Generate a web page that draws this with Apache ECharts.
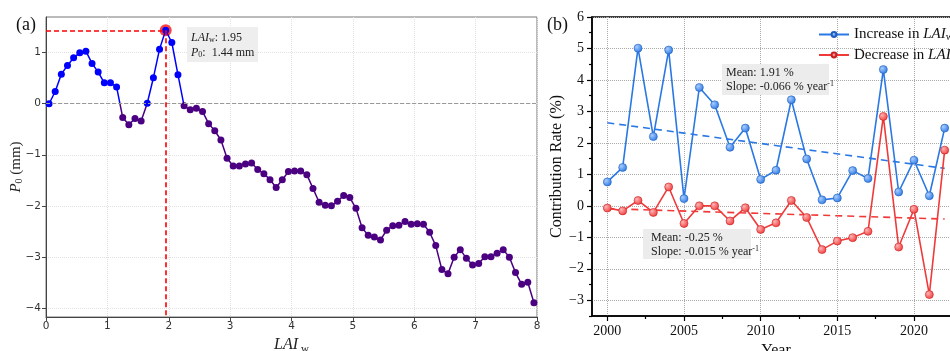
<!DOCTYPE html>
<html>
<head>
<meta charset="utf-8">
<script src="https://cdn.jsdelivr.net/npm/echarts@6/dist/echarts.min.js"></script>
<style>html,body{margin:0;padding:0;background:#fff}#chart{width:950px;height:351px}</style>
</head>
<body>
<div id="chart"></div>
<script>
// panel (a): P0 vs LAI_w
const laiW = [0.05,0.15,0.25,0.35,0.45,0.55,0.65,0.75,0.85,0.95,
  1.05,1.15,1.25,1.35,1.45,1.55,1.65,1.75,1.85,1.95,
  2.05,2.15,2.25,2.35,2.45,2.55,2.65,2.75,2.85,2.95,
  3.05,3.15,3.25,3.35,3.45,3.55,3.65,3.75,3.85,3.95,
  4.05,4.15,4.25,4.35,4.45,4.55,4.65,4.75,4.85,4.95,
  5.05,5.15,5.25,5.35,5.45,5.55,5.65,5.75,5.85,5.95,
  6.05,6.15,6.25,6.35,6.45,6.55,6.65,6.75,6.85,6.95,
  7.05,7.15,7.25,7.35,7.45,7.55,7.65,7.75,7.85,7.95];
const p0 = [0.00,0.24,0.58,0.75,0.90,1.00,1.03,0.79,0.62,0.41,
  0.41,0.33,-0.27,-0.41,-0.29,-0.34,0.01,0.51,1.07,1.44,
  1.20,0.57,-0.04,-0.12,-0.09,-0.15,-0.39,-0.53,-0.71,-1.07,
  -1.22,-1.22,-1.18,-1.16,-1.29,-1.37,-1.49,-1.64,-1.49,-1.33,
  -1.32,-1.32,-1.39,-1.66,-1.93,-1.99,-2.00,-1.91,-1.80,-1.84,
  -2.05,-2.43,-2.58,-2.61,-2.67,-2.48,-2.39,-2.38,-2.31,-2.36,
  -2.35,-2.36,-2.52,-2.78,-3.25,-3.33,-3.01,-2.86,-3.03,-3.16,
  -3.13,-3.00,-3.00,-2.93,-2.86,-3.01,-3.31,-3.54,-3.50,-3.90];
const peakLai = 1.95;
const peakP0 = 1.44;
const aTicksY = [-4, -3, -2, -1, 0, 1];
const aMinY = -4.18, aMaxY = 1.7;

// panel (b): contribution rate by year
const years = [2000,2001,2002,2003,2004,2005,2006,2007,2008,2009,2010,2011,
  2012,2013,2014,2015,2016,2017,2018,2019,2020,2021,2022];
const incRate = [0.76,1.22,5.01,2.20,4.95,0.23,3.76,3.21,1.86,2.47,0.84,1.13,
  3.37,1.49,0.19,0.25,1.12,0.87,4.33,0.44,1.45,0.32,2.47];
const decRate = [-0.07,-0.16,0.17,-0.21,0.60,-0.56,0.00,0.00,-0.48,-0.06,-0.75,-0.54,
  0.17,-0.37,-1.39,-1.12,-1.01,-0.81,2.84,-1.31,-0.11,-2.82,1.77];
const trendYears = [2000, 2022];
const incTrend = [2.64, 1.19];
const decTrend = [-0.09, -0.42];
const bTicksX = [2000, 2005, 2010, 2015, 2020];
const bMinorX = [2002.5, 2007.5, 2012.5, 2017.5, 2022.5];
const bTicksY = [-3, -2, -1, 0, 1, 2, 3, 4, 5, 6];
const bMinorY = [-3.5, -2.5, -1.5, -0.5, 0.5, 1.5, 2.5, 3.5, 4.5, 5.5];

const minus = v => (v < 0 ? '\u2212' + Math.abs(v) : String(v));
const serif = '"Liberation Serif", "DejaVu Serif", serif';
const sans = '"DejaVu Sans", sans-serif';
const BLUE = '#2a78e4', RED = '#f03a3a';
const POS = '#0000ff', NEG = '#4b0082';
const ball = (c0, c1) => new echarts.graphic.RadialGradient(0.35, 0.35, 0.7, [
  {offset: 0, color: c0}, {offset: 1, color: c1}]);

const gridA = {left: 46, top: 17, width: 491, height: 300};
// where P0 = 0 sits inside grid (a), as a fraction from the top
const zeroFrac = aMaxY / (aMaxY - aMinY);
const signLine = new echarts.graphic.LinearGradient(0, gridA.top, 0, gridA.top + gridA.height, [
  {offset: 0, color: POS}, {offset: zeroFrac, color: POS},
  {offset: zeroFrac, color: NEG}, {offset: 1, color: NEG}], true);

const chart = echarts.init(document.getElementById('chart'));

chart.setOption({
  animation: false,
  textStyle: {fontFamily: serif},
  grid: [
    Object.assign({show: true, borderColor: '#777', borderWidth: 1, outerBoundsMode: 'none', containLabel: false}, gridA),
    {left: 592, top: 17, width: 368, height: 299, show: true, borderColor: '#000', borderWidth: 1.5,
      outerBoundsMode: 'none', containLabel: false}
  ],
  legend: {
    left: 818, top: 27, padding: 0, orient: 'vertical', itemWidth: 30, itemHeight: 6, itemGap: 5,
    data: ['inc', 'dec'],
    formatter: n => n === 'inc' ? 'Increase in {i|LAI}{s|w}' : 'Decrease in {i|LAI}{s|w}',
    textStyle: {
      fontFamily: serif, fontSize: 15, color: '#111',
      rich: {
        i: {fontFamily: serif, fontSize: 15, fontStyle: 'italic', color: '#111'},
        s: {fontFamily: serif, fontSize: 10, color: '#111', padding: [6, 0, 0, 0]}
      }
    }
  },
  xAxis: [
    {
      gridIndex: 0, type: 'value', min: 0, max: 8, interval: 1,
      name: '{i|LAI} {s|w}', nameLocation: 'middle', nameGap: 16,
      nameTextStyle: {rich: {
        i: {fontFamily: serif, fontSize: 16, fontStyle: 'italic', color: '#222'},
        s: {fontFamily: serif, fontSize: 11, color: '#222', padding: [8, 0, 0, 0]}
      }},
      axisLine: {onZero: false, lineStyle: {color: '#444', width: 1}},
      axisTick: {length: 4, lineStyle: {color: '#444'}},
      axisLabel: {fontFamily: sans, fontSize: 10.5, color: '#333', margin: 4, formatter: minus},
      splitLine: {show: true, lineStyle: {color: '#e2e2e2', type: 'dotted'}}
    },
    {
      gridIndex: 1, type: 'value', min: 1999, max: 2023, position: 'bottom',
      name: 'Year', nameLocation: 'middle', nameGap: 21,
      nameTextStyle: {fontFamily: serif, fontSize: 16, color: '#111'},
      axisLine: {onZero: false, lineStyle: {color: '#000', width: 1.5}},
      axisTick: {length: 5, customValues: bTicksX, lineStyle: {color: '#000', width: 1.2}},
      axisLabel: {customValues: bTicksX, fontFamily: serif, fontSize: 14, color: '#111', margin: 8,
        formatter: v => String(v)},
      splitLine: {show: true, lineStyle: {color: '#aaa', type: 'dotted', width: 1}}
    },
    {
      gridIndex: 1, type: 'value', min: 1999, max: 2023, position: 'bottom',
      axisLine: {show: false, onZero: false},
      axisTick: {length: 3, customValues: bMinorX, lineStyle: {color: '#000', width: 1.2}},
      axisLabel: {show: false},
      splitLine: {show: false}
    }
  ],
  yAxis: [
    {
      gridIndex: 0, type: 'value', min: aMinY, max: aMaxY,
      name: '{i|P}{s|0} (mm)', nameLocation: 'middle', nameGap: 22, nameRotate: 90, nameMoveOverlap: false,
      nameTextStyle: {rich: {
        i: {fontFamily: serif, fontSize: 15, fontStyle: 'italic', color: '#222'},
        s: {fontFamily: serif, fontSize: 10, color: '#222', padding: [6, 0, 0, 0]},
      }, fontFamily: serif, fontSize: 15, color: '#222'},
      axisLine: {onZero: false, lineStyle: {color: '#444', width: 1}},
      axisTick: {length: 4, customValues: aTicksY, lineStyle: {color: '#444'}},
      axisLabel: {customValues: aTicksY, fontFamily: sans, fontSize: 10.5, color: '#333', margin: 5, formatter: minus},
      splitLine: {show: true, lineStyle: {color: '#e2e2e2', type: 'dotted'}}
    },
    {
      gridIndex: 1, type: 'value', min: -3.5, max: 6, position: 'left',
      name: 'Contribution Rate (%)', nameLocation: 'middle', nameGap: 26,
      nameTextStyle: {fontFamily: serif, fontSize: 16, color: '#111'},
      axisLine: {onZero: false, lineStyle: {color: '#000', width: 1.5}},
      axisTick: {length: 5, customValues: bTicksY, lineStyle: {color: '#000', width: 1.2}},
      axisLabel: {customValues: bTicksY, fontFamily: serif, fontSize: 14, color: '#111', margin: 8, formatter: minus},
      splitLine: {show: true, lineStyle: {color: '#aaa', type: 'dotted', width: 1}}
    },
    {
      gridIndex: 1, type: 'value', min: -3.5, max: 6, position: 'left',
      axisLine: {show: false, onZero: false},
      axisTick: {length: 3, customValues: bMinorY, lineStyle: {color: '#000', width: 1.2}},
      axisLabel: {show: false},
      splitLine: {show: false}
    }
  ],
  series: [
    {
      name: 'p0', type: 'line', xAxisIndex: 0, yAxisIndex: 0, z: 4,
      data: laiW.map((x, i) => [x, p0[i]]),
      symbol: 'circle', symbolSize: 7, showSymbol: true,
      lineStyle: {width: 1.5, color: signLine},
      itemStyle: {color: p => (p.value[1] >= 0 ? POS : NEG)}
    },
    {
      name: 'peak', type: 'scatter', xAxisIndex: 0, yAxisIndex: 0, z: 3,
      data: [[peakLai, peakP0]], symbolSize: 12, itemStyle: {color: '#ff1010'},
      markLine: {
        silent: true, symbol: 'none', label: {show: false}, animation: false,
        lineStyle: {color: '#ff0000', type: [5, 3], width: 1.6},
        data: [
          {yAxis: 0, lineStyle: {color: '#999', type: [4, 2], width: 1}},
          [{coord: [0, peakP0]}, {coord: [peakLai, peakP0]}],
          [{coord: [peakLai, peakP0]}, {coord: [peakLai, aMinY]}]
        ]
      }
    },
    {
      name: 'inc', type: 'line', xAxisIndex: 1, yAxisIndex: 1, z: 4,
      data: years.map((y, i) => [y, incRate[i]]),
      symbol: 'circle', symbolSize: 8, color: BLUE,
      lineStyle: {width: 1.6, color: BLUE},
      itemStyle: {color: ball('#a9ccff', BLUE), borderColor: '#1d5fc0', borderWidth: 0.6}
    },
    {
      name: 'dec', type: 'line', xAxisIndex: 1, yAxisIndex: 1, z: 4,
      data: years.map((y, i) => [y, decRate[i]]),
      symbol: 'circle', symbolSize: 8, color: RED,
      lineStyle: {width: 1.6, color: RED},
      itemStyle: {color: ball('#ffb4b4', RED), borderColor: '#c82020', borderWidth: 0.6}
    },
    {
      name: 'incTrend', type: 'line', xAxisIndex: 1, yAxisIndex: 1, z: 3,
      data: trendYears.map((y, i) => [y, incTrend[i]]), symbol: 'none',
      lineStyle: {color: BLUE, type: [7, 5], width: 1.6}
    },
    {
      name: 'decTrend', type: 'line', xAxisIndex: 1, yAxisIndex: 1, z: 3,
      data: trendYears.map((y, i) => [y, decTrend[i]]), symbol: 'none',
      lineStyle: {color: RED, type: [7, 5], width: 1.6}
    }
  ],
  graphic: [
    {type: 'text', left: 16, top: 16, style: {text: '(a)', font: '18px ' + serif, fill: '#111'}},
    {type: 'text', left: 547, top: 16, style: {text: '(b)', font: '18px ' + serif, fill: '#111'}},
    {type: 'rect', shape: {x: 187, y: 27, width: 71, height: 35}, style: {fill: '#eeeeee'}, z: 5},
    {type: 'text', x: 191, y: 30, z: 6, style: {
      text: '{i|LAI}{s|w}{n|: 1.95}\n{i|P}{s|0}{n|:  1.44 mm}',
      rich: {
        i: {font: 'italic 12px ' + serif, fill: '#222', lineHeight: 15},
        s: {font: '8px ' + serif, fill: '#222', lineHeight: 15, padding: [5, 0, 0, 0]},
        n: {font: '12px ' + serif, fill: '#222', lineHeight: 15}
      }
    }},
    {type: 'rect', shape: {x: 722, y: 64, width: 107, height: 31}, style: {fill: '#ececec'}, z: 5},
    {type: 'text', x: 726, y: 66, z: 6, style: {
      text: '{n|Mean: 1.91 %}\n{n|Slope: -0.066 % year}{p|-1}',
      rich: {
        n: {font: '12px ' + serif, fill: '#222', lineHeight: 14},
        p: {font: '8px ' + serif, fill: '#222', lineHeight: 14, padding: [0, 0, 6, 0]}
      }
    }},
    {type: 'rect', shape: {x: 643, y: 229, width: 108, height: 30}, style: {fill: '#ececec'}, z: 5},
    {type: 'text', x: 651, y: 231, z: 6, style: {
      text: '{n|Mean: -0.25 %}\n{n|Slope: -0.015 % year}{p|-1}',
      rich: {
        n: {font: '12px ' + serif, fill: '#222', lineHeight: 14},
        p: {font: '8px ' + serif, fill: '#222', lineHeight: 14, padding: [0, 0, 6, 0]}
      }
    }}
  ]
});
</script>
</body>
</html>
